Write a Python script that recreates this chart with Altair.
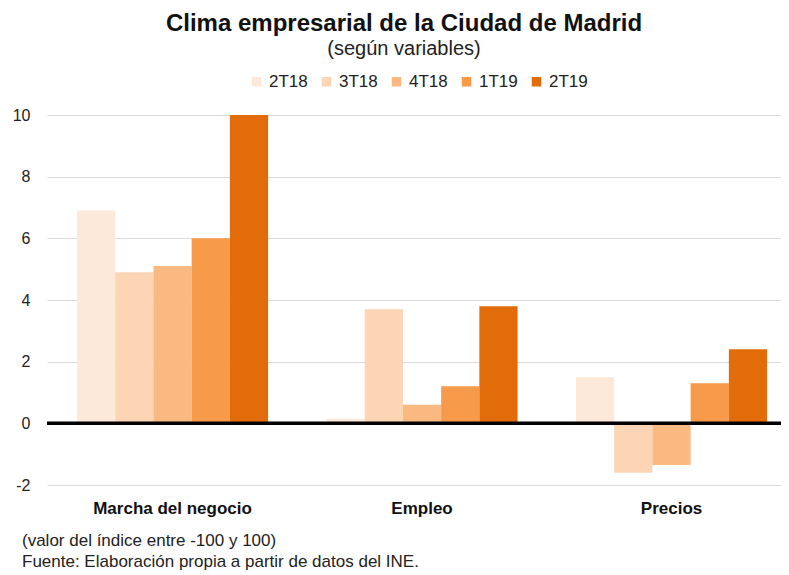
import altair as alt
import pandas as pd

categorias = ["Marcha del negocio", "Empleo", "Precios"]
periodos = ["2T18", "3T18", "4T18", "1T19", "2T19"]
marcha = [6.9, 4.9, 5.1, 6.0, 10.0]
empleo = [0.15, 3.7, 0.6, 1.2, 3.8]
precios = [1.5, -1.6, -1.35, 1.3, 2.4]
colores = ["#FDE9D9", "#FCD5B4", "#FAB981", "#F79A4A", "#E36C0A"]
y_ticks = [-2, 0, 2, 4, 6, 8, 10]
notas = ["(valor del índice entre -100 y 100)",
         "Fuente: Elaboración propia a partir de datos del INE."]
titulo = "Clima empresarial de la Ciudad de Madrid"
subtitulo = "(según variables)"

rows = []
for cat, vals in zip(categorias, [marcha, empleo, precios]):
    for p, v in zip(periodos, vals):
        rows.append({"categoria": cat, "periodo": p, "valor": v})
df = pd.DataFrame(rows)

W, H = 734, 370
FONT = "Liberation Sans"

bars = alt.Chart(df).mark_bar().encode(
    x=alt.X("categoria:N", sort=categorias, title=None,
            scale=alt.Scale(paddingInner=0.234, paddingOuter=0.088, align=0.683),
            axis=alt.Axis(labelAngle=0, labelFontWeight="bold", labelFontSize=17,
                          labelColor="#111", labelPadding=15, domain=False, ticks=False,
                          labelFont=FONT)),
    xOffset=alt.XOffset("periodo:N", sort=periodos,
                        scale=alt.Scale(paddingInner=0, paddingOuter=0)),
    y=alt.Y("valor:Q", title=None,
            scale=alt.Scale(domain=[-2, 10], nice=False, zero=False),
            axis=alt.Axis(values=y_ticks, labelFontSize=16, labelColor="#222",
                          labelPadding=17, domain=False, ticks=False,
                          labelExpr="replace(datum.label, '\u2212', '-')",
                          gridColor="#d9d9d9", gridWidth=1, labelFont=FONT)),
    color=alt.Color("periodo:N", sort=periodos,
                    scale=alt.Scale(domain=periodos, range=colores),
                    legend=alt.Legend(title=None, orient="none", direction="horizontal",
                                      legendX=201, legendY=-42, symbolType="square",
                                      symbolSize=90, symbolStrokeWidth=0,
                                      labelFontSize=17, labelFont=FONT, labelColor="#222",
                                      columnPadding=10, labelOffset=4)),
)

zero = alt.Chart(pd.DataFrame({"y": [0]})).mark_rule(color="black", strokeWidth=3.5).encode(
    y="y:Q"
)

note1 = alt.Chart(pd.DataFrame({"texto": [notas[0]]})).mark_text(
    align="left", baseline="middle", fontSize=17, font=FONT, color="#222"
).encode(x=alt.value(-25), y=alt.value(426), text="texto:N")
note2 = alt.Chart(pd.DataFrame({"texto": [notas[1]]})).mark_text(
    align="left", baseline="middle", fontSize=17, font=FONT, color="#222"
).encode(x=alt.value(-25), y=alt.value(447), text="texto:N")

chart = alt.layer(bars, zero, note1, note2).properties(
    width=W, height=H,
    title=alt.Title(titulo, subtitle=subtitulo, anchor="middle", fontSize=24,
                    font=FONT, fontWeight="bold", color="#111", subtitleFontSize=20,
                    subtitleFont=FONT, subtitleColor="#222", offset=14, dx=-10,
                    subtitlePadding=3),
    autosize=alt.AutoSizeParams(type="none"),
    padding={"left": 39, "top": 107, "right": 0, "bottom": 90},
).configure_view(stroke=None)

chart.save("out.html", embed_options={"renderer": "svg", "actions": False})
